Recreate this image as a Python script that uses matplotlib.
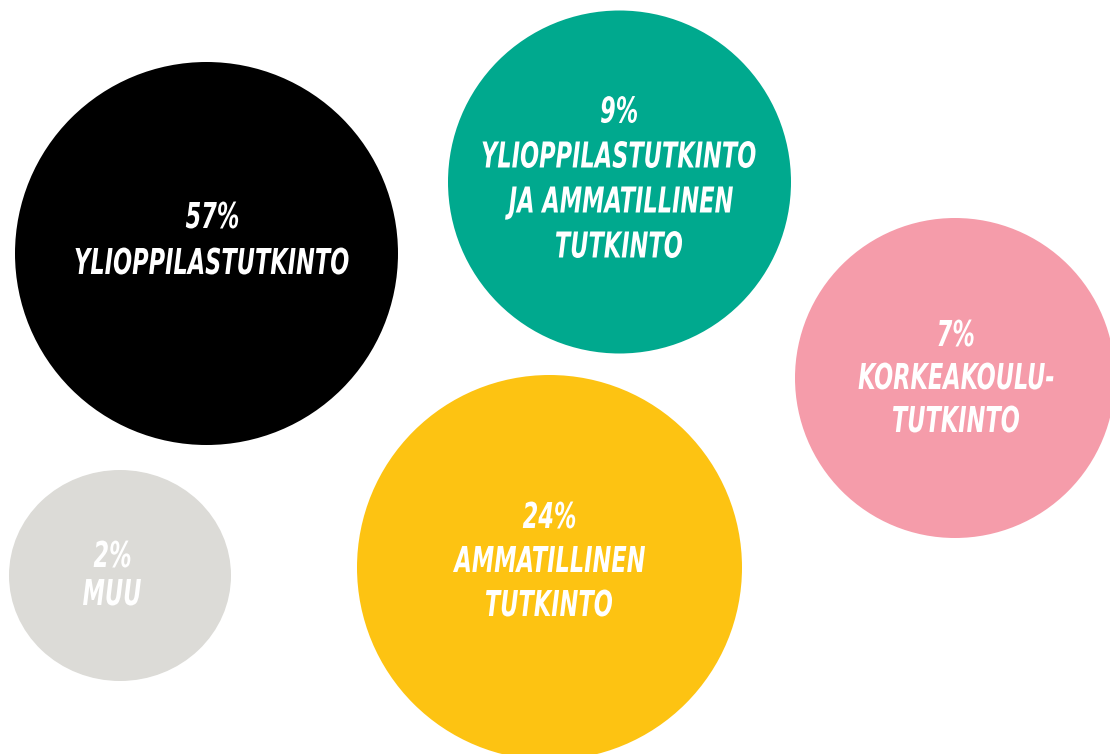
import matplotlib.pyplot as plt
from matplotlib.patches import Ellipse, PathPatch
from matplotlib.textpath import TextPath
from matplotlib.font_manager import FontProperties
from matplotlib.transforms import Affine2D

# data
values = [57, 9, 7, 24, 2]
labels = [["YLIOPPILASTUTKINTO"],
          ["YLIOPPILASTUTKINTO", "JA AMMATILLINEN", "TUTKINTO"],
          ["KORKEAKOULU-", "TUTKINTO"],
          ["AMMATILLINEN", "TUTKINTO"],
          ["MUU"]]

# layout (pixel space of the 1110x754 canvas)
centers = [(206.5, 253.5), (619.5, 182), (955, 378), (549.5, 567.5), (120, 575.5)]
widths = [383, 343, 320, 385, 222]
heights = [383, 343, 320, 385, 211]
text_pos = [(212, 238), (619, 177), (956, 376), (549, 559), (112, 573)]
line_gap = [46, 45, 43, 44, 38]
colors = ["#000000", "#00A98E", "#F59CAA", "#FDC312", "#DCDBD7"]

fig = plt.figure(figsize=(11.1, 7.54), dpi=100)
ax = fig.add_axes([0, 0, 1, 1])
ax.set_xlim(0, 1110)
ax.set_ylim(754, 0)
ax.axis("off")

fp = FontProperties(family="DejaVu Sans", weight="bold", style="italic")
cap = 26.0
size = cap / 0.729
# squeeze the glyphs so the long word is as wide as in the original
ref = TextPath((0, 0), "YLIOPPILASTUTKINTO", size=1, prop=fp).get_extents()
sx = 273.0 / (ref.width * size)


def draw_line(s, cx, cy):
    p = TextPath((0, 0), s, size=1, prop=fp)
    e = p.get_extents()
    x0 = cx - (e.x0 + e.width / 2) * sx * size
    tr = Affine2D().scale(sx * size, -size).translate(x0, cy + cap / 2) + ax.transData
    ax.add_patch(PathPatch(p, facecolor="white", lw=0, transform=tr, zorder=3))


for i in range(len(values)):
    ax.add_patch(Ellipse(centers[i], widths[i], heights[i], color=colors[i], lw=0))
    lines = [f"{values[i]}%"] + labels[i]
    n = len(lines)
    for j, s in enumerate(lines):
        y = text_pos[i][1] + (j - (n - 1) / 2) * line_gap[i]
        draw_line(s, text_pos[i][0], y)

fig.savefig("out.png", dpi=100)
